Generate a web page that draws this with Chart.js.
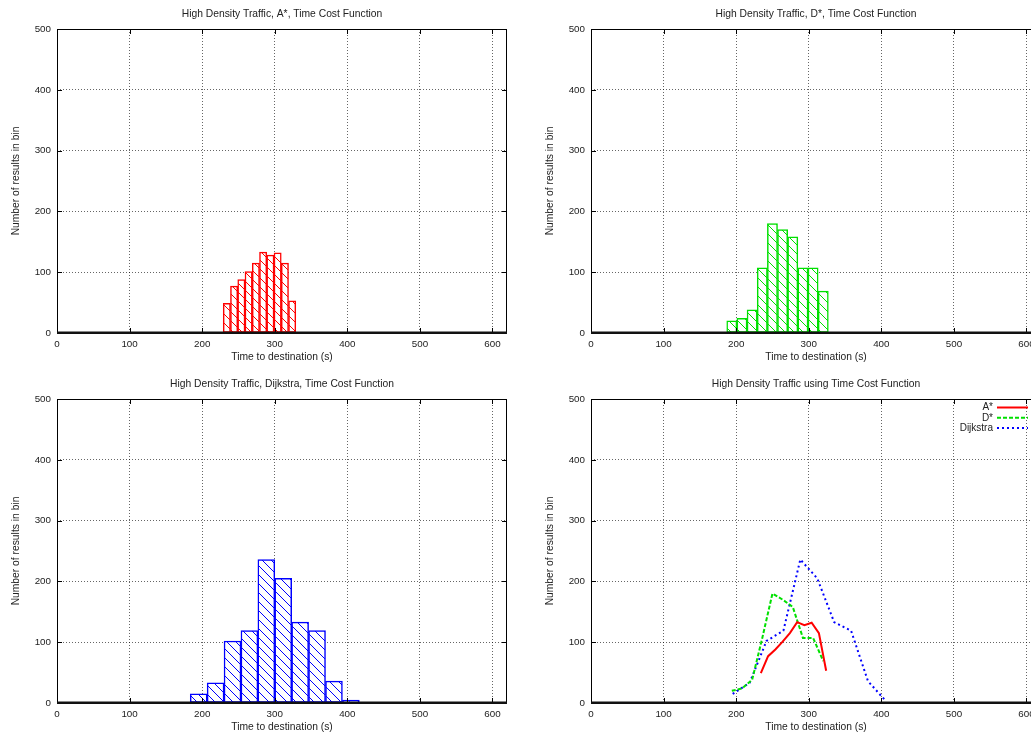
<!DOCTYPE html>
<html>
<head>
<meta charset="utf-8">
<title>High Density Traffic, Time Cost Function</title>
<script src="https://cdn.jsdelivr.net/npm/chart.js@4.4.0/dist/chart.umd.min.js"></script>
<style>
  html, body { margin: 0; padding: 0; background: #fff; overflow: hidden; }
  #wrap { position: relative; width: 1068px; height: 736px; }
  .panel { position: absolute; }
</style>
</head>
<body>
<div id="wrap">
  <canvas class="panel" id="c-astar"    width="534" height="368" style="left:0;top:0"></canvas>
  <canvas class="panel" id="c-dstar"    width="534" height="368" style="left:534px;top:0"></canvas>
  <canvas class="panel" id="c-dijkstra" width="534" height="368" style="left:0;top:370px"></canvas>
  <canvas class="panel" id="c-compare"  width="534" height="368" style="left:534px;top:370px"></canvas>
</div>
<script>
// axes (same for all four panels)
const X_TICKS = [0, 100, 200, 300, 400, 500, 600];
const Y_TICKS = [0, 100, 200, 300, 400, 500];
const X_MAX = 620;
const Y_MAX = 500;

// histogram bins (bin centres, seconds) and counts
const ASTAR_BINS      = [234, 244, 254, 264, 274, 284, 294, 304, 314, 324];
const ASTAR_COUNTS    = [49, 77, 88, 101, 115, 133, 128, 132, 115, 53];
const DSTAR_BINS      = [194, 208, 222, 236, 250, 264, 278, 292, 306, 320];
const DSTAR_COUNTS    = [20, 24, 38, 107, 180, 170, 158, 107, 107, 69];
const DIJKSTRA_BINS   = [195.2, 218.5, 241.8, 265.1, 288.4, 311.7, 335.0, 358.3, 381.6, 404.9];
const DIJKSTRA_COUNTS = [15, 33, 102, 119, 236, 205, 133, 119, 36, 5];

const RED = '#ff0000', GREEN = '#00e000', BLUE = '#0000ff';
const FONT = '"Liberation Sans", Arial, Helvetica, sans-serif';
const TEXT = '#222';

Chart.defaults.font.family = FONT;
Chart.defaults.color = TEXT;

const pts = (xs, ys) => xs.map((x, i) => ({ x, y: ys[i] }));

// gnuplot-ish "\" hatch on white
function hatch(color) {
  const c = document.createElement('canvas');
  c.width = 9; c.height = 9;
  const g = c.getContext('2d');
  g.fillStyle = '#fff';
  g.fillRect(0, 0, 9, 9);
  g.strokeStyle = color; g.lineWidth = 1;
  g.beginPath();
  for (const o of [-9, 0, 9]) { g.moveTo(o, 0); g.lineTo(o + 9, 9); }
  g.stroke();
  return g.createPattern(c, 'repeat');
}

// full box border with inward tick marks, thicker baseline
const framePlugin = {
  id: 'frame',
  afterDraw(chart) {
    const { ctx, chartArea: a, scales: { x, y } } = chart;
    ctx.save();
    ctx.strokeStyle = '#000';
    ctx.lineWidth = 1;
    ctx.beginPath();
    ctx.moveTo(a.left + .5, a.bottom); ctx.lineTo(a.left + .5, a.top + .5);
    ctx.lineTo(a.right - .5, a.top + .5); ctx.lineTo(a.right - .5, a.bottom);
    X_TICKS.forEach(v => {
      const px = Math.round(x.getPixelForValue(v)) + .5;
      ctx.moveTo(px, a.bottom); ctx.lineTo(px, a.bottom - 5);
      ctx.moveTo(px, a.top); ctx.lineTo(px, a.top + 5);
    });
    Y_TICKS.forEach(v => {
      const py = Math.round(y.getPixelForValue(v)) + .5;
      ctx.moveTo(a.left, py); ctx.lineTo(a.left + 5, py);
      ctx.moveTo(a.right, py); ctx.lineTo(a.right - 5, py);
    });
    ctx.stroke();
    ctx.fillStyle = '#111';
    ctx.fillRect(a.left, a.bottom - 1.5, a.width, 2.5);
    ctx.restore();
  }
};

// key in the top-right corner: label right-aligned, sample line after it
const keyPlugin = {
  id: 'key',
  afterDatasetsDraw(chart) {
    const { ctx, chartArea: a } = chart;
    ctx.save();
    ctx.font = '10px ' + FONT;
    ctx.textAlign = 'right';
    ctx.textBaseline = 'middle';
    chart.data.datasets.forEach((ds, i) => {
      const yy = a.top + 8.5 + i * 10.3;
      ctx.fillStyle = TEXT;
      ctx.fillText(ds.label, a.right - 48, yy);
      ctx.strokeStyle = ds.borderColor;
      ctx.lineWidth = ds.borderWidth;
      ctx.setLineDash(ds.borderDash || []);
      ctx.beginPath();
      ctx.moveTo(a.right - 44, yy); ctx.lineTo(a.right - 13, yy);
      ctx.stroke();
    });
    ctx.restore();
  }
};

function axisOptions() {
  const tickFont = { size: 9.8 };
  const titleFont = { size: 10.3 };
  return {
    x: {
      type: 'linear', min: 0, max: X_MAX, offset: false,
      afterBuildTicks: s => { s.ticks = X_TICKS.map(v => ({ value: v })); },
      afterFit: s => { s.height = 35; },
      ticks: { font: tickFont, padding: 5, maxRotation: 0, color: TEXT },
      grid: { color: 'rgba(0,0,0,0.6)', lineWidth: 1, drawTicks: false, offset: false },
      border: { display: false, dash: [1, 2] },
      title: { display: true, text: 'Time to destination (s)', font: titleFont, color: TEXT, padding: { top: 0, bottom: 5 } },
    },
    y: {
      type: 'linear', min: 0, max: Y_MAX,
      afterBuildTicks: s => { s.ticks = Y_TICKS.map(v => ({ value: v })); },
      afterFit: s => { s.width = 57; },
      ticks: { font: tickFont, padding: 6, color: TEXT },
      grid: { color: 'rgba(0,0,0,0.6)', lineWidth: 1, drawTicks: false },
      border: { display: false, dash: [1, 2] },
      title: { display: true, text: 'Number of results in bin', font: titleFont, color: TEXT, padding: { top: 10, bottom: 0 } },
    },
  };
}

function makeChart(id, title, type, datasets, extraPlugins) {
  return new Chart(document.getElementById(id), {
    type,
    data: { datasets },
    options: {
      responsive: false,
      animation: false,
      events: [],
      layout: { padding: { left: 0, right: 27, top: 0, bottom: 0 } },
      plugins: {
        legend: { display: false },
        tooltip: { enabled: false },
        title: {
          display: true, text: title, fullSize: false,
          font: { size: 10.3, weight: 'normal' }, color: TEXT,
          padding: { top: 7.8, bottom: 8.84 },
        },
      },
      scales: axisOptions(),
    },
    plugins: [framePlugin].concat(extraPlugins || []),
  });
}

function histogram(label, bins, counts, color) {
  return {
    label, data: pts(bins, counts),
    backgroundColor: hatch(color), borderColor: color, borderWidth: 1.5,
    borderSkipped: false, barPercentage: 1, categoryPercentage: 1,
  };
}

makeChart('c-astar', 'High Density Traffic, A*, Time Cost Function', 'bar',
  [histogram('A*', ASTAR_BINS, ASTAR_COUNTS, RED)]);
makeChart('c-dstar', 'High Density Traffic, D*, Time Cost Function', 'bar',
  [histogram('D*', DSTAR_BINS, DSTAR_COUNTS, GREEN)]);
makeChart('c-dijkstra', 'High Density Traffic, Dijkstra, Time Cost Function', 'bar',
  [histogram('Dijkstra', DIJKSTRA_BINS, DIJKSTRA_COUNTS, BLUE)]);

makeChart('c-compare', 'High Density Traffic using Time Cost Function', 'line', [
  { label: 'A*',       data: pts(ASTAR_BINS, ASTAR_COUNTS),       borderColor: RED,   borderWidth: 2, pointRadius: 0, tension: 0 },
  { label: 'D*',       data: pts(DSTAR_BINS, DSTAR_COUNTS),       borderColor: GREEN, borderWidth: 2, borderDash: [4, 2], pointRadius: 0, tension: 0 },
  { label: 'Dijkstra', data: pts(DIJKSTRA_BINS, DIJKSTRA_COUNTS), borderColor: BLUE,  borderWidth: 2, borderDash: [2, 3], pointRadius: 0, tension: 0 },
], [keyPlugin]);
</script>
</body>
</html>
